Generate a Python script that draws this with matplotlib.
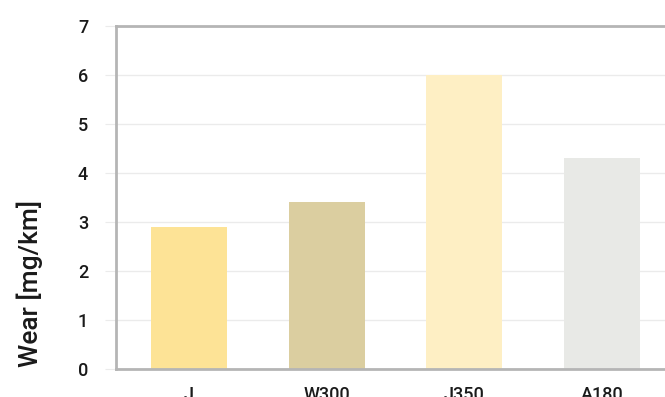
import numpy as np
import matplotlib
matplotlib.use('Agg')
import matplotlib.pyplot as plt

plt.rcParams['font.family'] = ['Roboto', 'Liberation Sans', 'DejaVu Sans']

# data
materials = ['J', 'W300', 'J350', 'A180']
wear = [2.9, 3.4, 6.0, 4.3]
bar_colors = ['#fde396', '#dbcea0', '#feefc4', '#e8e9e6']

fig = plt.figure(figsize=(6.65, 3.97), dpi=100)
ax = fig.add_axes([116/665, 28/397, 559/665, 343/397])

x = np.arange(len(materials))
ax.bar(x, wear, width=0.55, color=bar_colors, zorder=2)

ax.set_xlim(-0.53, len(materials) - 1 + 0.53)
ax.set_ylim(0, 7)
ax.set_yticks(range(0, 8))
ax.set_xticks(x)
ax.set_xticklabels(materials)
ax.yaxis.grid(True, color='#ebebeb', linewidth=1, zorder=0)
ax.tick_params(axis='y', length=8, color='#ebebeb', labelsize=13, pad=12,
               labelcolor='#1a1a1a')
ax.tick_params(axis='x', length=0, labelsize=13, pad=12, labelcolor='#1a1a1a')
for lbl in ax.get_yticklabels() + ax.get_xticklabels():
    lbl.set_fontweight('medium')

for s in ax.spines.values():
    s.set_color('#b5b5b5')
    s.set_linewidth(2)

ax.set_ylabel('Wear [mg/km]', fontsize=19, fontweight='medium', color='#1a1a1a')
ax.yaxis.set_label_coords(-0.13, 0.25)

fig.savefig('out.png', dpi=100)
